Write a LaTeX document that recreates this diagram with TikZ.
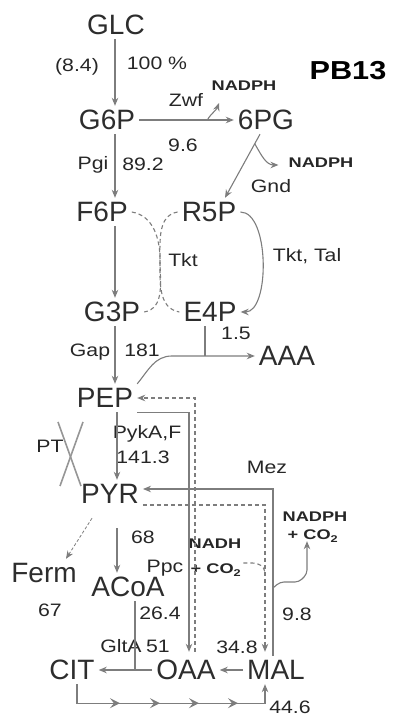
\documentclass[tikz,border=0pt]{standalone}
\usepackage{fontspec}
\setmainfont{Liberation Sans}
\newfontfamily\lblfam[FakeStretch=1.18]{Liberation Sans}
\newfontfamily\coffam[FakeStretch=1.3]{Liberation Sans}
\usepackage{tikz}
\usetikzlibrary{arrows.meta, calc, decorations.markings}
\definecolor{linegray}{RGB}{125,125,125}
\definecolor{metgray}{RGB}{45,45,45}
\definecolor{crossgray}{RGB}{150,150,150}
\newcommand{\metfont}{\fontsize{28}{30}\selectfont}
\newcommand{\lblfont}{\lblfam\fontsize{18}{20}\selectfont}
\newcommand{\coffont}{\coffam\bfseries\fontsize{14}{15}\selectfont}
\tikzset{
  met/.style={font=\metfont, text=metgray, inner sep=4pt, text height=20pt, text depth=0pt},
  lbl/.style={font=\lblfont, text=black!85, inner sep=1pt, text height=13pt, text depth=0pt},
  cof/.style={font=\coffont, text=black!85, inner sep=1pt, text height=10pt, text depth=0pt},
  flux/.style={draw=linegray, line width=1.1pt},
  dflux/.style={flux, dash pattern=on 4pt off 3pt},
  chev/.style={linegray, line width=1.1pt},
  tca/.style={flux, postaction={decorate}, decoration={markings,
      mark=at position 62pt with {\arrow[chev]{Stealth[length=10pt,width=10pt,inset=4pt]}},
      mark=at position 102pt with {\arrow[chev]{Stealth[length=10pt,width=10pt,inset=4pt]}},
      mark=at position 141pt with {\arrow[chev]{Stealth[length=10pt,width=10pt,inset=4pt]}},
      mark=at position 180pt with {\arrow[chev]{Stealth[length=10pt,width=10pt,inset=4pt]}}}}
}

\begin{document}
\begin{tikzpicture}[x=1pt, y=1pt, >={Stealth[length=8pt,width=6.5pt]}]
    \useasboundingbox (0,0) rectangle (406,716);

    % Metabolites
    \foreach \nm/\x/\y/\txt in {glc/116/691/GLC, gsixp/107/596/G6P, sixpg/266/596/6PG,
        fsixp/102/504/F6P, rfivep/209/504/R5P, gthreep/112/404/G3P, efourp/210/404/E4P,
        aaa/287/360/AAA, pep/105/318/PEP, pyr/110/222/PYR, ferm/44/143/Ferm,
        acoa/128/129/ACoA, cit/72/46/CIT, oaa/186/46/OAA, mal/276/46/MAL}
        \node[met] (\nm) at (\x,\y) {\txt};

    % Enzymes and flux values
    \foreach \nm/\x/\y/\txt in {lglc/77/651/(8.4), lpct/157/653/100 \%, lzwf/186/616/Zwf,
        lzwfv/183/571/9.6, lpgi/93/553/Pgi, lpgiv/143/552/89.2, lgnd/271/530/Gnd,
        ltkt/183/456/Tkt, ltal/307/461/{Tkt, Tal}, laaav/236/383/1.5, lgap/90/366/Gap,
        lgapv/142/366/181, lpyk/147/284/{PykA,F}, lpykv/143/259/141.3, lpts/50/270/PT,
        lmez/267/249/Mez, lacoav/143/179/68, lppc/165/150/Ppc, lferm/50/106/67,
        lppcv/160/103/26.4, lmezv/297/102/9.8, lglt/121/70/GltA, lgltv/158/70/51,
        lpckv/237/69/34.8, ltcav/290/9/44.6}
        \node[lbl] (\nm) at (\x,\y) {\txt};

    % Cofactors
    \node[cof] (nadphz) at (244,630) {NADPH};
    \node[cof] (nadphg) at (321,553) {NADPH};
    \node[cof] (nadphm) at (315,199) {NADPH};
    \node[cof] (com) at (313,181) {+ CO\textsubscript{2}};
    \node[cof] (nadhp) at (215,172) {NADH};
    \node[cof] (cop) at (216,147) {+ CO\textsubscript{2}};
    \node[font=\lblfam\bfseries\fontsize{26}{28}\selectfont, text=black] (strain) at (348,645) {PB13};

    % Lanes and branch points
    \coordinate (colx) at (115,0);
    \coordinate (ppcx) at (189,0);
    \coordinate (pckx) at (195,0);
    \coordinate (pycx) at (265,0);
    \coordinate (mezx) at (273,0);
    \coordinate (gltx) at (135,0);
    \coordinate (tktmid) at (160,456);
    \coordinate (aaajoin) at (172,360);
    \coordinate (zwftip) at (219,613);
    \coordinate (mezbr) at (273,128);
    \coordinate (pycbr) at (265,144);
    \coordinate (eflow) at ($(efourp.south)+(-5,0)$);
    \coordinate (mezin) at ($(pyr.east)+(0,5)$);
    \coordinate (pycout) at ($(pyr.east)+(0,-11)$);
    \coordinate (fermout) at ($(pyr.south west)+(15,-10)$);
    \coordinate (fermin) at ($(ferm.north)+(22,0)$);
    \coordinate (gndout) at ($(sixpg.south)+(-6,0)$);
    \coordinate (gndin) at ($(rfivep.north)+(16,0)$);
    \coordinate (gndtip) at ($(nadphg.west)+(-9,-2)$);
    \coordinate (pycco) at ($(cop.east)+(1,6)$);
    \coordinate (mezco) at ($(com.south)+(-6,0)$);
    \coordinate (tcaout) at ($(cit.south)+(5,0)$);
    \coordinate (tcain) at ($(mal.south)+(-11,0)$);

    % Glycolysis
    \draw[flux,->] (glc.south -| colx) -- (gsixp.north -| colx);
    \draw[flux,->] (gsixp.south -| colx) -- (fsixp.north -| colx);
    \draw[flux,->] (fsixp.south -| colx) -- (gthreep.north -| colx);
    \draw[flux,->] (gthreep.south -| colx) -- (pep.north -| colx);
    \draw[flux,->] ([xshift=2pt]pep.south -| colx) -- ([xshift=2pt]pyr.north -| colx);
    \draw[flux,->,shorten <=20pt] ([xshift=2pt]pyr.south -| colx) -- ([xshift=2pt]acoa.north -| colx);
    \draw[flux,->,densely dashed,line width=0.8pt] (fermout) -- (fermin);

    % PTS knocked out
    \draw[crossgray, line width=1.6pt] (58,294) -- (81,230);
    \draw[crossgray, line width=1.6pt] (83,294) -- (60,230);

    % Pentose phosphate pathway
    \draw[flux,->] (gsixp.east) -- (sixpg.west);
    \path (gsixp.east) -- (sixpg.west) coordinate[pos=0.72] (zwfbr);
    \draw[flux,->] (zwfbr) to[out=60,in=-110] (zwftip);
    \draw[flux,->] (gndout) -- (gndin);
    \path (gndout) -- (gndin) coordinate[pos=0.15] (gndbr);
    \draw[flux,->] (gndbr) to[out=-60,in=180] (gndtip);
    \draw[dflux] (fsixp.east) to[out=-10,in=90] (tktmid) to[out=-90,in=170] (efourp.west);
    \draw[dflux] (rfivep.west) to[out=190,in=90] (tktmid) to[out=-90,in=10] (gthreep.east);
    \draw[flux,->] (rfivep.east) to[out=0,in=0,looseness=0.75] (efourp.east);

    % Aromatic amino acids
    \draw[flux,->] (pep.north east) to[out=50,in=180] (aaajoin) -- (aaa.west);
    \draw[flux] (eflow) -- (eflow |- aaa.west);

    % Anaplerotic reactions
    \draw[flux,->,shorten >=4pt] (pep.south east) -| (oaa.north -| ppcx);
    \draw[dflux,->,shorten <=4pt] (oaa.north -| pckx) |- (pep.east);
    \draw[flux,->] (mal.north -| mezx) |- (mezin);
    \draw[dflux,->,shorten >=4pt] (pycout) -| (mal.north -| pycx);
    \draw[flux,->,rounded corners=4pt] (mezbr) -- ++(7,6) -- ++(19,0) -- ++(8,8) -- (mezco);
    \draw[dflux] (pycco) -- ++(9,0) to[out=0,in=100] (pycbr);

    % TCA cycle
    \draw[flux] (acoa.south -| gltx) -- (gltx |- cit.east);
    \draw[flux,->] (oaa.west) -- (cit.east);
    \draw[flux,->] (mal.west) -- (oaa.east);
    \draw[tca,->] (tcaout) -- ++(0,-19) -| (tcain);
\end{tikzpicture}
\end{document}
